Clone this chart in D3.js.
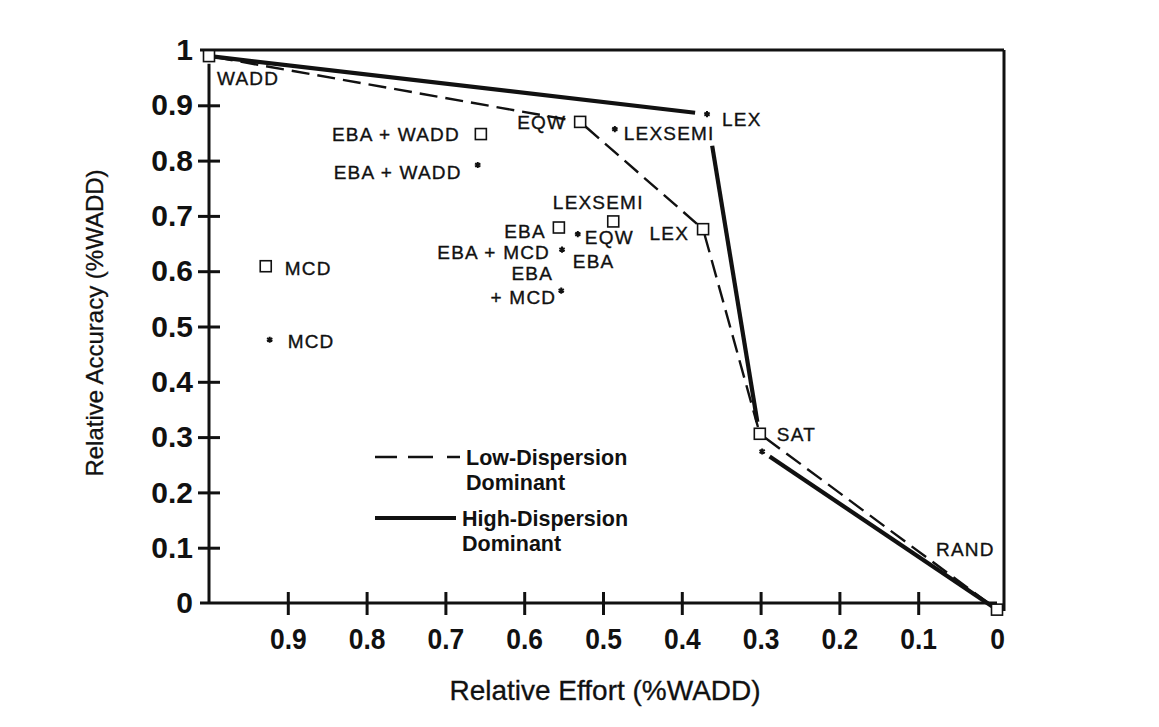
<!DOCTYPE html>
<html>
<head>
<meta charset="utf-8">
<script src="https://cdn.jsdelivr.net/npm/d3@7"></script>
<style>
  html, body { margin: 0; padding: 0; background: #fff; }
  svg { display: block; }
  text { font-family: "Liberation Sans", Arial, Helvetica, sans-serif; fill: #111; }
</style>
</head>
<body>
<div id="chart"></div>
<script>
// ---------------- DATA ----------------
// Low-Dispersion Dominant (dashed line, square markers)
const lowNames    = ["WADD", "EQW", "LEX", "SAT", "RAND"];
const lowEffort   = [1.0, 0.529, 0.373, 0.301, 0.0];
const lowAccuracy = [0.989, 0.870, 0.676, 0.306, -0.012];

// High-Dispersion Dominant (solid line, asterisk markers)
const highNames    = ["WADD", "LEX", "SAT", "RAND"];
const highEffort   = [1.0, 0.368, 0.298, 0.0];
const highAccuracy = [0.989, 0.884, 0.274, -0.012];

// Other strategies, low dispersion (squares)
const otherLowNames    = ["EBA + WADD", "LEXSEMI", "EBA", "MCD"];
const otherLowEffort   = [0.655, 0.487, 0.556, 0.928];
const otherLowAccuracy = [0.848, 0.690, 0.679, 0.609];

// Other strategies, high dispersion (asterisks)
const otherHighNames    = ["LEXSEMI", "EBA + WADD", "EQW|EBA", "EBA + MCD", "EBA|+ MCD", "MCD"];
const otherHighEffort   = [0.485, 0.659, 0.532, 0.552, 0.553, 0.923];
const otherHighAccuracy = [0.857, 0.792, 0.667, 0.639, 0.565, 0.476];

const xTickValues = [0.9, 0.8, 0.7, 0.6, 0.5, 0.4, 0.3, 0.2, 0.1, 0];
const xTickLabels = ["0.9", "0.8", "0.7", "0.6", "0.5", "0.4", "0.3", "0.2", "0.1", "0"];
const yTickValues = [0, 0.1, 0.2, 0.3, 0.4, 0.5, 0.6, 0.7, 0.8, 0.9, 1];
const yTickLabels = ["0", "0.1", "0.2", "0.3", "0.4", "0.5", "0.6", "0.7", "0.8", "0.9", "1"];

const xTitle = "Relative Effort (%WADD)";
const yTitle = "Relative Accuracy (%WADD)";
const legendNames = [["Low-Dispersion", "Dominant"], ["High-Dispersion", "Dominant"]];

// ---------------- LAYOUT ----------------
const W = 1159, H = 727;
const svg = d3.select("#chart").append("svg").attr("width", W).attr("height", H);
svg.append("rect").attr("width", W).attr("height", H).attr("fill", "#fff");

const x = d3.scaleLinear().domain([1, 0]).range([209, 997]);
const y = d3.scaleLinear().domain([0, 1]).range([603, 50]);

const ink = "#111";

// frame: top and right borders
svg.append("line").attr("x1", x(1) - 9).attr("x2", x(0) + 7).attr("y1", y(1)).attr("y2", y(1))
  .attr("stroke", ink).attr("stroke-width", 3);
svg.append("line").attr("x1", x(0) + 7).attr("x2", x(0) + 7).attr("y1", y(1)).attr("y2", y(0) + 8)
  .attr("stroke", ink).attr("stroke-width", 3);

// X axis
const xAxis = d3.axisBottom(x).tickValues(xTickValues)
  .tickFormat((d, i) => xTickLabels[i]).tickSizeOuter(0).tickSize(12).tickPadding(14);
const gx = svg.append("g").attr("transform", `translate(0,${y(0)})`).call(xAxis);
gx.select(".domain").remove();
gx.selectAll(".tick line").attr("y1", -11).attr("y2", 12).attr("stroke", ink).attr("stroke-width", 3)
  .filter(d => d === 0).remove();
gx.selectAll(".tick text").attr("font-size", 30).attr("font-weight", "bold")
  .attr("transform", "scale(0.88,1)").attr("dy", "0.68em")
  .attr("font-family", "Liberation Sans, Arial, sans-serif").attr("fill", ink);
svg.append("line").attr("x1", x(1) - 9).attr("x2", x(0)).attr("y1", y(0)).attr("y2", y(0))
  .attr("stroke", ink).attr("stroke-width", 3);

// Y axis
const yAxis = d3.axisLeft(y).tickValues(yTickValues)
  .tickFormat((d, i) => yTickLabels[i]).tickSizeOuter(0).tickSize(11).tickPadding(5);
const gy = svg.append("g").attr("transform", `translate(${x(1)},0)`).call(yAxis);
gy.select(".domain").remove();
gy.selectAll(".tick line").attr("x1", -11).attr("x2", 11).attr("stroke", ink).attr("stroke-width", 3)
  .filter(d => d === 0 || d === 1).remove();
gy.selectAll(".tick text").attr("font-size", 30).attr("font-weight", "bold")
  .attr("font-family", "Liberation Sans, Arial, sans-serif").attr("fill", ink);
svg.append("line").attr("x1", x(1)).attr("x2", x(1)).attr("y1", y(0.975)).attr("y2", y(0))
  .attr("stroke", ink).attr("stroke-width", 3);

// Axis titles
svg.append("text").attr("x", 605).attr("y", 700).attr("text-anchor", "middle")
  .attr("font-size", 28).attr("stroke", ink).attr("stroke-width", 0.3).text(xTitle);
svg.append("text").attr("transform", `translate(103,323) rotate(-90)`).attr("text-anchor", "middle")
  .attr("font-size", 24).attr("stroke", ink).attr("stroke-width", 0.3).text(yTitle);

// ---------------- LINES ----------------
function trimmedSegments(ex, ac, trimStart, trimEnd) {
  const segs = [];
  for (let i = 0; i < ex.length - 1; i++) {
    const x1 = x(ex[i]), y1 = y(ac[i]), x2 = x(ex[i + 1]), y2 = y(ac[i + 1]);
    const len = Math.hypot(x2 - x1, y2 - y1);
    const ux = (x2 - x1) / len, uy = (y2 - y1) / len;
    const a = trimStart[i], b = trimEnd[i];
    segs.push([[x1 + ux * a, y1 + uy * a], [x2 - ux * b, y2 - uy * b]]);
  }
  return segs;
}
const line = d3.line();

const lowSegs = trimmedSegments(lowEffort, lowAccuracy, [6, 7, 6, 7], [7, 6, 7, 6]);
svg.append("g").selectAll("path").data(lowSegs).join("path")
  .attr("d", d => line(d)).attr("fill", "none").attr("stroke", ink)
  .attr("stroke-width", 2.4).attr("stroke-dasharray", "18,8");

const highSegs = trimmedSegments(highEffort, highAccuracy, [5, 32, 9], [12, 30, 6]);
svg.append("g").selectAll("path").data(highSegs).join("path")
  .attr("d", d => line(d)).attr("fill", "none").attr("stroke", ink)
  .attr("stroke-width", 4.2).attr("stroke-linecap", "butt");

// ---------------- MARKERS ----------------
function squares(ex, ac) {
  svg.append("g").selectAll("rect").data(ex).join("rect")
    .attr("x", (d, i) => x(d) - 5.5).attr("y", (d, i) => y(ac[i]) - 5.5)
    .attr("width", 11).attr("height", 11)
    .attr("fill", "#fff").attr("stroke", ink).attr("stroke-width", 1.6);
}
const star = d3.symbol().type(d3.symbolAsterisk).size(26);
function stars(ex, ac) {
  svg.append("g").selectAll("path").data(ex).join("path")
    .attr("transform", (d, i) => `translate(${x(d)},${y(ac[i])})`)
    .attr("d", star()).attr("fill", "none").attr("stroke", ink).attr("stroke-width", 2);
}
squares(lowEffort, lowAccuracy);
stars(highEffort.slice(1, 3), highAccuracy.slice(1, 3));
squares(otherLowEffort, otherLowAccuracy);
stars(otherHighEffort, otherHighAccuracy);

// ---------------- LABELS ----------------
// placement offsets (dx, dy to text center, anchor)
const place = {
  "low:WADD":   [[8, 22, "start"]],
  "low:EQW":    [[-14, 0, "end"]],
  "low:LEX":    [[-14, 4, "end"]],
  "low:SAT":    [[17, 0, "start"]],
  "low:RAND":   [[-61, -60, "start"]],
  "high:LEX":   [[15, 5, "start"]],
  "olow:EBA + WADD": [[-21, 0, "end"]],
  "olow:LEXSEMI":    [[-15, -19, "middle"]],
  "olow:EBA":        [[-13, 4, "end"]],
  "olow:MCD":        [[19, 2, "start"]],
  "ohigh:LEXSEMI":   [[9, 4, "start"]],
  "ohigh:EBA + WADD":[[-16, 7, "end"]],
  "ohigh:EQW|EBA":   [[7, 3, "start"], [-5, 27, "start"]],
  "ohigh:EBA + MCD": [[-12, 3, "end"]],
  "ohigh:EBA|+ MCD": [[-29, -17, "middle"], [-5, 7, "end"]],
  "ohigh:MCD":       [[18, 1, "start"]]
};
const labelG = svg.append("g").attr("font-size", 19).attr("letter-spacing", 1.2)
  .attr("stroke", ink).attr("stroke-width", 0.35);
function labels(prefix, names, ex, ac) {
  names.forEach((n, i) => {
    const p = place[prefix + ":" + n];
    if (!p) return;
    n.split("|").forEach((part, j) => {
      const [dx, dy, anchor] = p[j];
      labelG.append("text").attr("x", x(ex[i]) + dx).attr("y", y(ac[i]) + dy)
        .attr("dy", "0.36em").attr("text-anchor", anchor).text(part);
    });
  });
}
labels("low", lowNames, lowEffort, lowAccuracy);
labels("high", highNames, highEffort, highAccuracy);
labels("olow", otherLowNames, otherLowEffort, otherLowAccuracy);
labels("ohigh", otherHighNames, otherHighEffort, otherHighAccuracy);

// ---------------- LEGEND ----------------
const lg = svg.append("g");
lg.append("line").attr("x1", 375).attr("x2", 461).attr("y1", 457).attr("y2", 457)
  .attr("stroke", ink).attr("stroke-width", 2.4).attr("stroke-dasharray", "22,11,25,14,13");
lg.append("line").attr("x1", 375).attr("x2", 456).attr("y1", 518).attr("y2", 518)
  .attr("stroke", ink).attr("stroke-width", 4.2);
const legendY = [[457, 482], [518, 543]];
legendNames.forEach((lines, k) => {
  lines.forEach((t, j) => {
    lg.append("text").attr("x", k === 0 ? 466 : 462).attr("y", legendY[k][j]).attr("dy", "0.36em")
      .attr("font-size", 21.5).attr("font-weight", "bold").text(t);
  });
});
</script>
</body>
</html>
